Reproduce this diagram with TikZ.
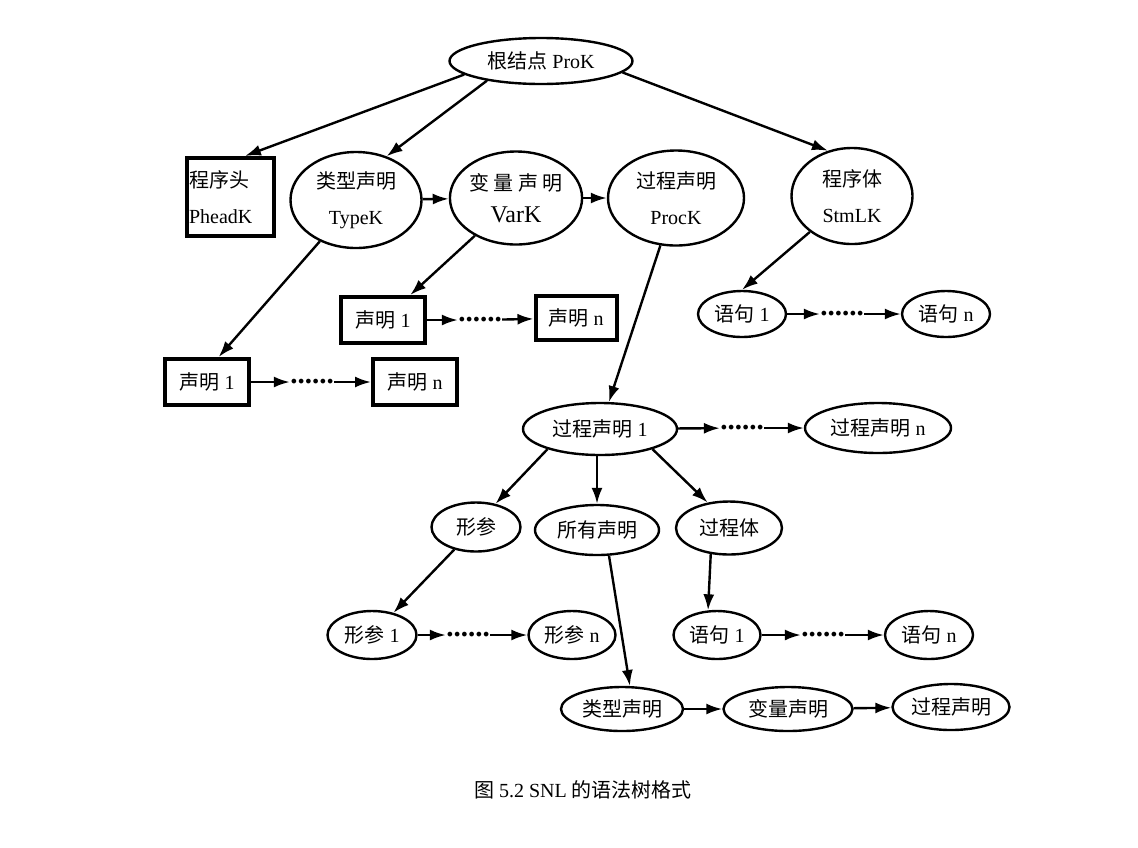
\documentclass[tikz,border=0pt]{standalone}
\usepackage{fontspec}
\setmainfont{Liberation Serif}
\newfontfamily\cjk{Noto Sans CJK SC}
\usetikzlibrary{shapes.geometric}
\usetikzlibrary{arrows.meta}
\usetikzlibrary{positioning}

\begin{document}
\begin{tikzpicture}[
        x=0.5pt, y=-0.5pt,
        font=\fontsize{10}{12}\selectfont,
        oval/.style={
            ellipse,
            draw,
            line width=1.2pt,
            inner sep=0pt,
            align=center,
        },
        box/.style={
            rectangle,
            draw,
            line width=2pt,
            inner sep=0pt,
        },
        dots/.style={inner sep=0pt, font=\bfseries\fontsize{14.5}{15}\selectfont},
        link/.style={-{Latex[length=8pt,width=5.5pt]}, line width=1.2pt},
    ]

    \useasboundingbox (0,0) rectangle (1138,847);

    % top level
    \node (root) at (541,61) [oval, minimum width=91.5pt, minimum height=23pt] {{\cjk 根结点} ProK};
    \node (phead) at (230,197) [box, minimum width=43.5pt, minimum height=39pt, text width=41pt, align=left] {{\cjk 程序头}\\[6pt]PheadK};
    \node (typek) at (356,200) [oval, minimum width=65.5pt, minimum height=48pt] {{\cjk 类型声明}\\[6pt]TypeK};
    \node (vark) at (516,198) [oval, minimum width=65.5pt, minimum height=46.5pt] {{\cjk 变 量 声 明}\\[4pt]{\fontsize{12}{14}\selectfont VarK}};
    \node (prock) at (676,198) [oval, minimum width=68pt, minimum height=47.5pt] {{\cjk 过程声明}\\[6pt]ProcK};
    \node (stmlk) at (852,196) [oval, minimum width=60.5pt, minimum height=48pt] {{\cjk 程序体}\\[6pt]StmLK};

    % declarations
    \node (decl1a) at (383,320) [box, minimum width=42pt, minimum height=23pt] {{\cjk 声明} 1};
    \node (dots1) at (480,320) [dots] {......};
    \node (decl1n) at (576,318) [box, minimum width=40.5pt, minimum height=22pt] {{\cjk 声明} n};
    \node (decl2a) at (207,382) [box, minimum width=42pt, minimum height=23pt] {{\cjk 声明} 1};
    \node (dots2) at (312,382) [dots] {......};
    \node (decl2n) at (415,382) [box, minimum width=42pt, minimum height=23pt] {{\cjk 声明} n};

    % statements
    \node (stm1) at (742,314) [oval, minimum width=44pt, minimum height=23pt] {{\cjk 语句} 1};
    \node (dots3) at (842,314) [dots] {......};
    \node (stmn) at (946,314) [oval, minimum width=44pt, minimum height=23pt] {{\cjk 语句} n};

    % procedures
    \node (proc1) at (600,429) [oval, minimum width=77pt, minimum height=26pt] {{\cjk 过程声明} 1};
    \node (dots4) at (742,428) [dots] {......};
    \node (procn) at (878,428) [oval, minimum width=73pt, minimum height=25pt] {{\cjk 过程声明} n};

    \node (param) at (476,527) [oval, minimum width=44.5pt, minimum height=24.5pt] {\cjk 形参};
    \node (alldecl) at (597,530) [oval, minimum width=62pt, minimum height=25pt] {\cjk 所有声明};
    \node (procbody) at (729,528) [oval, minimum width=53pt, minimum height=26.5pt] {\cjk 过程体};

    \node (param1) at (372,635) [oval, minimum width=44.5pt, minimum height=24pt] {{\cjk 形参} 1};
    \node (dots5) at (468,635) [dots] {......};
    \node (paramn) at (572,635) [oval, minimum width=43.5pt, minimum height=24pt] {{\cjk 形参} n};
    \node (pstm1) at (717,635) [oval, minimum width=43.5pt, minimum height=24pt] {{\cjk 语句} 1};
    \node (dots6) at (823,635) [dots] {......};
    \node (pstmn) at (929,635) [oval, minimum width=44pt, minimum height=24pt] {{\cjk 语句} n};

    \node (tdecl) at (622,709) [oval, minimum width=61pt, minimum height=22pt] {\cjk 类型声明};
    \node (vdecl) at (788,709) [oval, minimum width=64.5pt, minimum height=22pt] {\cjk 变量声明};
    \node (pdecl) at (951,707) [oval, minimum width=58.5pt, minimum height=23pt] {\cjk 过程声明};

    \node (caption) at (583,790) {{\cjk 图} 5.2 SNL {\cjk 的语法树格式}};

    \draw [link] (root.190) -- (phead.70);
    \draw [link] (root.200) -- (typek.55);
    \draw [link] (root.-8) -- (stmlk.118);
    \draw [link] (typek) -- (vark);
    \draw [link] (vark) -- (prock);

    \draw [link] (typek) -- (decl2a.65);
    \draw [link] (decl2a) -- (dots2);
    \draw [link] (dots2) -- (decl2n);
    \draw [link] (vark) -- (decl1a);
    \draw [link] (decl1a) -- (dots1);
    \draw [link] (dots1) -- (decl1n);

    \draw [link] (stmlk) -- (stm1.north);
    \draw [link] (stm1) -- (dots3);
    \draw [link] (dots3) -- (stmn);

    \draw [link] (prock) -- (proc1);
    \draw [link] (proc1) -- (dots4);
    \draw [link] (dots4) -- (procn);
    \draw [link] (proc1.201) -- (param.50);
    \draw [link] (proc1.south -| alldecl) -- (alldecl);
    \draw [link] (proc1.-21) -- (procbody.130);

    \draw [link] (param) -- (param1);
    \draw [link] (param1) -- (dots5);
    \draw [link] (dots5) -- (paramn);
    \draw [link] (procbody.235) -- (pstm1.110);
    \draw [link] (pstm1) -- (dots6);
    \draw [link] (dots6) -- (pstmn);

    \draw [link] (alldecl.295) -- (tdecl.71);
    \draw [link] (tdecl) -- (vdecl);
    \draw [link] (vdecl) -- (pdecl);

\end{tikzpicture}
\end{document}
